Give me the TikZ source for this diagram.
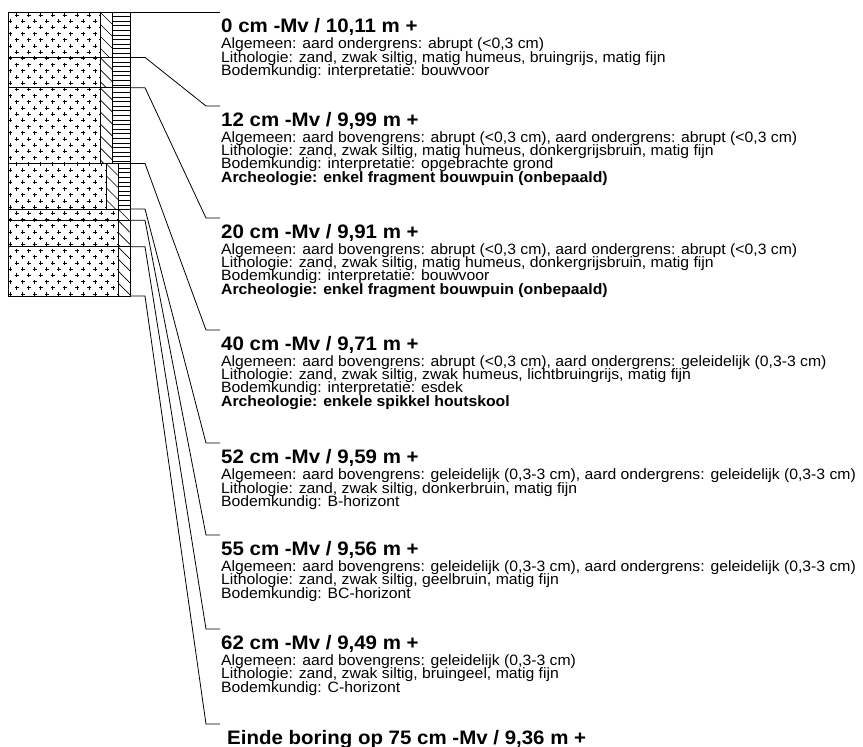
\documentclass[tikz,border=0pt]{standalone}
\usepackage{fontspec}
\setmainfont{Liberation Sans}
\newfontfamily\wfont{Liberation Sans}[FakeStretch=1.05]
\begin{document}
\begin{tikzpicture}[x=1pt,y=-1pt,
  lead/.style={draw=black, line width=0.8pt},
  frame/.style={draw=black, line width=0.9pt},
  hatch/.style={draw=black, line width=0.7pt},
  plusmark/.style={draw=black, line width=0.85pt},
  head/.style={anchor=base west, inner sep=0pt, font=\wfont\fontsize{19.5}{22}\selectfont\bfseries},
  body/.style={anchor=base west, inner sep=0pt, font=\wfont\fontsize{15}{16}\selectfont},
  bodyb/.style={anchor=base west, inner sep=0pt, font=\wfont\fontsize{15}{16}\selectfont\bfseries}]
\useasboundingbox (0,0) rectangle (863,747);

% ---------- plus pattern (sand) ----------
\begin{scope}
\clip (8,12) -- (100,12) -- (100,163.5) -- (106,163.5) -- (106,209) -- (118,209) -- (118,296) -- (8,296) -- cycle;
\foreach \i in {0,...,46} {
  \pgfmathsetmacro\yy{15+6.2*\i}
  \pgfmathsetmacro\xo{ifthenelse(mod(\i,2)==0,16.5,10.4)}
  \foreach \j in {0,...,9} {
    \pgfmathsetmacro\xx{\xo+12.1*\j}
    \draw[plusmark] (\xx-2,\yy) -- (\xx+2,\yy) (\xx,\yy-2) -- (\xx,\yy+2);
  }
}
\end{scope}

% ---------- diagonal hatch strips ----------
\foreach \xl/\yt/\yb in {100/12/57.4, 100/57.4/87.7, 100/87.7/163.5, 106/163.5/209, 118/209/220.3, 118/220.3/246.8, 118/246.8/296} {
  \begin{scope}
    \clip (\xl,\yt) rectangle (\xl+12,\yb);
    \foreach \k in {0,...,7} {
      \draw[hatch] (\xl,\yt+12*\k) -- (\xl+12,\yt+12*\k+12);
    }
  \end{scope}
}

% ---------- horizontal hatch strips ----------
\foreach \xl/\yt/\yb in {112/12/57.4, 112/57.4/87.7, 112/87.7/163.5, 118/163.5/209} {
  \begin{scope}
    \clip (\xl,\yt) rectangle (130,\yb);
    \foreach \k in {1,...,17} {
      \draw[hatch] (\xl,\yt+4.6*\k) -- (130,\yt+4.6*\k);
    }
  \end{scope}
}

% ---------- column frame ----------
\draw[frame] (8,12) rectangle (130,296);
\draw[frame] (100,12) -- (100,163.5) (112,12) -- (112,163.5);
\draw[frame] (106,163.5) -- (106,209) (118,163.5) -- (118,296);
\foreach \yy in {57.4, 87.7, 163.5, 209, 220.3, 246.8} {
  \draw[frame] (8,\yy) -- (130,\yy);
}

% ---------- boundary points and leader ends ----------
\coordinate (c0) at (130,12);
\coordinate (c1) at (130,57.4);
\coordinate (c2) at (130,87.7);
\coordinate (c3) at (130,163.5);
\coordinate (c4) at (130,209);
\coordinate (c5) at (130,220.3);
\coordinate (c6) at (130,246.8);
\coordinate (c7) at (130,296);

\coordinate (e0) at (220,12);
\coordinate (e1) at (220,106);
\coordinate (e2) at (220,218);
\coordinate (e3) at (220,330);
\coordinate (e4) at (220,443);
\coordinate (e5) at (220,535);
\coordinate (e6) at (220,629);
\coordinate (e7) at (220,724);

\draw[lead] (c0) -- (e0);
\foreach \n in {1,...,7} {
  \draw[lead] (c\n) -- ++(15,0) -- ([xshift=-14pt]e\n) -- (e\n);
}

% ---------- texts ----------
% 0 cm  (Y=12)
\node[head] (h0) at (221,32) {0 cm -Mv / 10,11 m +};
\node[body] (a0) at (221,48.5) {Algemeen: aard ondergrens: abrupt (<0,3 cm)};
\node[body] (l0) at (221,62) {Lithologie: zand, zwak siltig, matig humeus, bruingrijs, matig fijn};
\node[body] (b0) at (221,75.5) {Bodemkundig: interpretatie: bouwvoor};

% 12 cm (Y=106)
\node[head] (h1) at (221,126) {12 cm -Mv / 9,99 m +};
\node[body] (a1) at (221,142) {Algemeen: aard bovengrens: abrupt (<0,3 cm), aard ondergrens: abrupt (<0,3 cm)};
\node[body] (l1) at (221,155.4) {Lithologie: zand, zwak siltig, matig humeus, donkergrijsbruin, matig fijn};
\node[body] (b1) at (221,168.8) {Bodemkundig: interpretatie: opgebrachte grond};
\node[bodyb] (r1) at (221,182.2) {Archeologie: enkel fragment bouwpuin (onbepaald)};

% 20 cm (Y=218)
\node[head] (h2) at (221,238) {20 cm -Mv / 9,91 m +};
\node[body] (a2) at (221,254) {Algemeen: aard bovengrens: abrupt (<0,3 cm), aard ondergrens: abrupt (<0,3 cm)};
\node[body] (l2) at (221,267.4) {Lithologie: zand, zwak siltig, matig humeus, donkergrijsbruin, matig fijn};
\node[body] (b2) at (221,280.8) {Bodemkundig: interpretatie: bouwvoor};
\node[bodyb] (r2) at (221,294.2) {Archeologie: enkel fragment bouwpuin (onbepaald)};

% 40 cm (Y=330)
\node[head] (h3) at (221,350) {40 cm -Mv / 9,71 m +};
\node[body] (a3) at (221,366) {Algemeen: aard bovengrens: abrupt (<0,3 cm), aard ondergrens: geleidelijk (0,3-3 cm)};
\node[body] (l3) at (221,379.4) {Lithologie: zand, zwak siltig, zwak humeus, lichtbruingrijs, matig fijn};
\node[body] (b3) at (221,392.8) {Bodemkundig: interpretatie: esdek};
\node[bodyb] (r3) at (221,406.2) {Archeologie: enkele spikkel houtskool};

% 52 cm (Y=443)
\node[head] (h4) at (221,463) {52 cm -Mv / 9,59 m +};
\node[body] (a4) at (221,479.5) {Algemeen: aard bovengrens: geleidelijk (0,3-3 cm), aard ondergrens: geleidelijk (0,3-3 cm)};
\node[body] (l4) at (221,493) {Lithologie: zand, zwak siltig, donkerbruin, matig fijn};
\node[body] (b4) at (221,506.5) {Bodemkundig: B-horizont};

% 55 cm (Y=535)
\node[head] (h5) at (221,555) {55 cm -Mv / 9,56 m +};
\node[body] (a5) at (221,571) {Algemeen: aard bovengrens: geleidelijk (0,3-3 cm), aard ondergrens: geleidelijk (0,3-3 cm)};
\node[body] (l5) at (221,584.5) {Lithologie: zand, zwak siltig, geelbruin, matig fijn};
\node[body] (b5) at (221,598) {Bodemkundig: BC-horizont};

% 62 cm (Y=629)
\node[head] (h6) at (221,649) {62 cm -Mv / 9,49 m +};
\node[body] (a6) at (221,665) {Algemeen: aard bovengrens: geleidelijk (0,3-3 cm)};
\node[body] (l6) at (221,678.5) {Lithologie: zand, zwak siltig, bruingeel, matig fijn};
\node[body] (b6) at (221,692) {Bodemkundig: C-horizont};

% end
\node[head] (h7) at (227,744) {Einde boring op 75 cm -Mv / 9,36 m +};
\end{tikzpicture}
\end{document}
